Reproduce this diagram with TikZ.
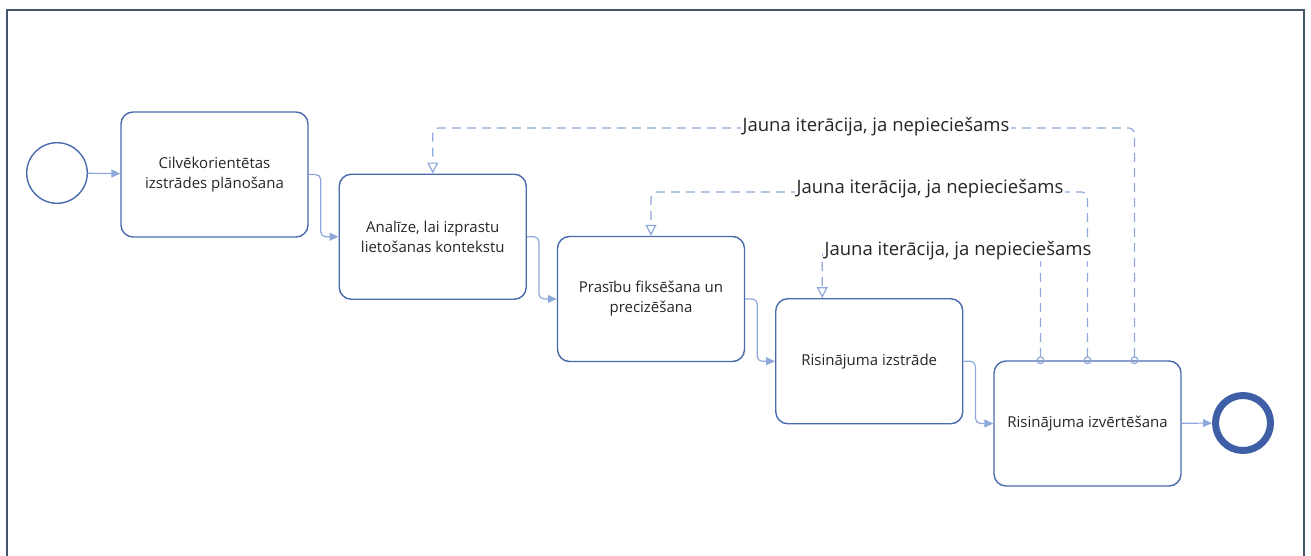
\documentclass[tikz,border=0pt]{standalone}
\usepackage{fontspec}
\setmainfont{Open Sans}
\usetikzlibrary{arrows.meta,calc}

\begin{document}
\begin{tikzpicture}[x=1pt, y=-1pt,
    task/.style={draw=Taskcolor, line width=1.4pt, rounded corners=12pt, minimum width=187pt, minimum height=125pt, align=center, text=black!85, font=\fontsize{15}{20}\selectfont},
    flow/.style={draw=Flowcolor, line width=1.2pt, rounded corners=5pt, -{Triangle[length=9pt, width=8pt]}},
    msg/.style={draw=Flowcolor, line width=1.2pt, dash pattern=on 9pt off 6pt, rounded corners=6pt, {Circle[open, length=8pt, width=8pt]}-{Triangle[open, length=11pt, width=11pt]}},
    msglabel/.style={fill=white, inner xsep=2pt, inner ysep=1pt, text=black!85, font=\fontsize{18.5}{21}\selectfont}]
            \definecolor{Taskcolor}{RGB}{74, 106, 174}
            \definecolor{Flowcolor}{RGB}{143, 168, 218}
            \definecolor{Endcolor}{RGB}{62, 95, 165}
            \definecolor{Framecolor}{RGB}{68, 84, 106}
            \def\taskdx{218.25}
            \def\taskdy{62.25}
            \def\loopdx{47}
            \clip (0,0) rectangle (1311,556);
            \draw[draw=Framecolor, line width=1.5pt] (7,600) -- (7,10) -- (1304,10) -- (1304,600);
            \node[draw=Taskcolor, circle, line width=1.4pt, minimum size=60.6pt] (start) at (57,173) {};
            \node[task] (T1) at (214.5, 174.5) {Cilvēkorientētas\\izstrādes plānošana};
            \node[task] (T2) at ({214.5+\taskdx}, {174.5+\taskdy}) {Analīze, lai izprastu\\lietošanas kontekstu};
            \node[task] (T3) at ({214.5+2*\taskdx}, {174.5+2*\taskdy}) {Prasību fiksēšana un\\precizēšana};
            \node[task] (T4) at ({214.5+3*\taskdx}, {174.5+3*\taskdy}) {Risinājuma izstrāde};
            \node[task] (T5) at ({214.5+4*\taskdx}, {174.5+4*\taskdy}) {Risinājuma izvērtēšana};
            \node[draw=Endcolor, circle, line width=7pt, minimum size=55pt] (end) at (1243,423) {};
            \draw[flow] (start) -- (T1);
            \draw[flow] (T1.east) -- ++(12,0) |- (T2.west);
            \draw[flow] (T2.east) -- ++(12,0) |- (T3.west);
            \draw[flow] (T3.east) -- ++(12,0) |- (T4.west);
            \draw[flow] (T4.east) -- ++(12,0) |- (T5.west);
            \draw[flow] (T5) -- (end);
            \coordinate (m1) at ($(T5.north)+(\loopdx,4)$);
            \coordinate (m2) at ($(T5.north)+(0,4)$);
            \coordinate (m3) at ($(T5.north)+(-\loopdx,4)$);
            \coordinate (t3) at ($(T4.north)+(-\loopdx,0)$);
            \draw[msg] (m1) -- (m1 |- 0,128) -- (T2.north |- 0,128) -- (T2.north);
            \draw[msg] (m2) -- (m2 |- 0,192) -- (T3.north |- 0,192) -- (T3.north);
            \draw[msg] (m3) -- (m3 |- 0,251) -- (t3 |- 0,251) -- (t3);
            \node[msglabel] (lab1) at (876,127) {Jauna iterācija, ja nepieciešams};
            \node[msglabel] (lab2) at (930,189) {Jauna iterācija, ja nepieciešams};
            \node[msglabel] (lab3) at (958,251) {Jauna iterācija, ja nepieciešams};
        \end{tikzpicture}
\end{document}
